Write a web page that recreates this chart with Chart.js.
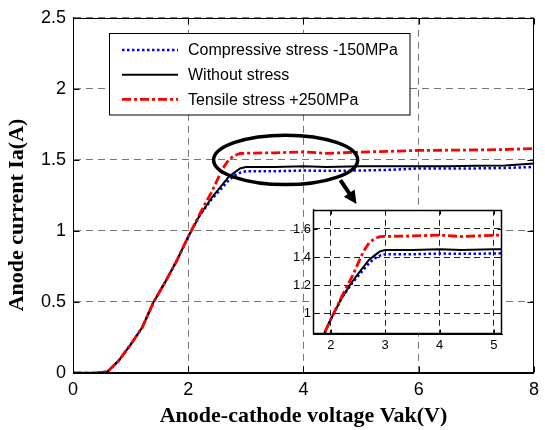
<!DOCTYPE html>
<html>
<head>
<meta charset="utf-8">
<script src="https://cdn.jsdelivr.net/npm/chart.js@4.4.0/dist/chart.umd.min.js"></script>
<style>
  html, body { margin: 0; padding: 0; background: #fff; }
  #wrap { position: relative; width: 545px; height: 430px; }
  #mainChart { position: absolute; left: 0; top: 0; }
  #insetChart { position: absolute; left: 282px; top: 200px; }
</style>
</head>
<body>
<div id="wrap">
  <canvas id="mainChart" width="545" height="430"></canvas>
  <canvas id="insetChart" width="225" height="160"></canvas>
</div>
<script>
// Anode voltage (V) and anode current (A)
const voltage     = [0, 0.2, 0.4, 0.6, 0.8, 1.0, 1.2, 1.4, 1.6, 1.8, 2.0, 2.2, 2.4, 2.6, 2.7, 2.8, 2.9, 3.0, 3.5, 4.0, 4.4, 5.0, 5.5, 6.0, 6.5, 7.0, 7.5, 8.0];
const compressive = [0, 0, 0, 0.01, 0.09, 0.2, 0.32, 0.5, 0.64, 0.79, 0.96, 1.11, 1.22, 1.31, 1.355, 1.39, 1.41, 1.42, 1.42, 1.425, 1.423, 1.425, 1.43, 1.44, 1.44, 1.44, 1.443, 1.45];
const noStress    = [0, 0, 0, 0.01, 0.09, 0.2, 0.32, 0.5, 0.64, 0.79, 0.96, 1.11, 1.23, 1.33, 1.38, 1.41, 1.44, 1.45, 1.45, 1.455, 1.45, 1.455, 1.455, 1.455, 1.455, 1.458, 1.46, 1.475];
const tensile     = [0, 0, 0, 0.01, 0.09, 0.2, 0.32, 0.5, 0.64, 0.79, 0.96, 1.12, 1.27, 1.44, 1.50, 1.53, 1.545, 1.547, 1.55, 1.556, 1.546, 1.555, 1.56, 1.567, 1.568, 1.57, 1.573, 1.58];

const xTicks = [0, 2, 4, 6, 8];
const yTicks = [0, 0.5, 1, 1.5, 2, 2.5];
const insetXTicks = [2, 3, 4, 5];
const insetYTicks = [1, 1.2, 1.4, 1.6];

const SANS = '"Liberation Sans", Arial, sans-serif';
const SERIF = '"Liberation Serif", "Times New Roman", serif';

function points(arr) {
    return voltage.map((v, i) => ({ x: v, y: arr[i] }));
}

// legend order: compressive, without, tensile; red drawn on top
function makeDatasets() {
    return [
        { label: 'Compressive stress -150MPa', data: points(compressive), borderColor: '#0000ff', borderWidth: 2.5, borderDash: [2.5, 2.5], order: 2 },
        { label: 'Without stress', data: points(noStress), borderColor: '#000000', borderWidth: 2, borderDash: [], order: 1 },
        { label: 'Tensile stress +250MPa', data: points(tensile), borderColor: '#ff0000', borderWidth: 2.8, borderDash: [9, 3, 3, 3], order: 0 }
    ].map(d => Object.assign(d, { pointRadius: 0, fill: false, tension: 0 }));
}

// solid frame and inward tick marks, matlab style
const frameTicks = {
    id: 'frameTicks',
    afterDatasetsDraw(chart, args, opts) {
        const { ctx, chartArea: a, scales } = chart;
        const L = Math.round(a.left) + 0.5, R = Math.round(a.right) - 0.5;
        const T = Math.round(a.top) + 0.5, B = Math.round(a.bottom) - 0.5;
        ctx.save();
        ctx.setLineDash([]);
        ctx.strokeStyle = '#000';
        ctx.lineWidth = opts.width;
        ctx.strokeRect(L, T, R - L, B - T);
        ctx.lineWidth = 1;
        ctx.beginPath();
        scales.x.ticks.forEach(tk => {
            const px = Math.round(scales.x.getPixelForValue(tk.value)) + 0.5;
            ctx.moveTo(px, B); ctx.lineTo(px, B - opts.len);
            ctx.moveTo(px, T); ctx.lineTo(px, T + opts.len);
        });
        scales.y.ticks.forEach(tk => {
            const py = Math.round(scales.y.getPixelForValue(tk.value)) + 0.5;
            ctx.moveTo(L, py); ctx.lineTo(L + opts.len, py);
            ctx.moveTo(R, py); ctx.lineTo(R - opts.len, py);
        });
        ctx.stroke();
        ctx.restore();
    }
};

const whiteArea = {
    id: 'whiteArea',
    beforeDraw(chart) {
        const { ctx, chartArea: a } = chart;
        ctx.save();
        ctx.fillStyle = '#fff';
        ctx.fillRect(a.left, a.top, a.right - a.left, a.bottom - a.top);
        ctx.restore();
    }
};

// ellipse around the knee and arrow pointing at the inset
const zoomMark = {
    id: 'zoomMark',
    afterDatasetsDraw(chart) {
        const { ctx, scales: { x, y } } = chart;
        const cx = x.getPixelForValue(3.69), cy = y.getPixelForValue(1.50);
        const rx = x.getPixelForValue(3.69 + 1.25) - cx;
        const ry = cy - y.getPixelForValue(1.50 + 0.174);
        ctx.save();
        ctx.setLineDash([]);
        ctx.strokeStyle = '#000';
        ctx.lineWidth = 3.5;
        ctx.beginPath();
        ctx.ellipse(cx, cy, rx, ry, 0, 0, Math.PI * 2);
        ctx.stroke();

        const x0 = x.getPixelForValue(4.64), y0 = y.getPixelForValue(1.358);
        const x1 = x.getPixelForValue(4.92), y1 = y.getPixelForValue(1.19);
        const len = Math.hypot(x1 - x0, y1 - y0);
        const ux = (x1 - x0) / len, uy = (y1 - y0) / len;
        const bx = x1 - ux * 13, by = y1 - uy * 13;
        ctx.lineWidth = 4;
        ctx.beginPath();
        ctx.moveTo(x0, y0);
        ctx.lineTo(bx + ux * 2, by + uy * 2);
        ctx.stroke();
        ctx.fillStyle = '#000';
        ctx.beginPath();
        ctx.moveTo(x1, y1);
        ctx.lineTo(bx - uy * 6.5, by + ux * 6.5);
        ctx.lineTo(bx + uy * 6.5, by - ux * 6.5);
        ctx.closePath();
        ctx.fill();
        ctx.restore();
    }
};

// boxed legend inside the plot, upper left
const boxLegend = {
    id: 'boxLegend',
    afterDraw(chart) {
        const ctx = chart.ctx;
        ctx.save();
        ctx.setLineDash([]);
        ctx.fillStyle = '#fff';
        ctx.fillRect(109.5, 33.5, 300.5, 81.5);
        ctx.strokeStyle = '#000';
        ctx.lineWidth = 1;
        ctx.strokeRect(109.5, 33.5, 300.5, 81.5);
        ctx.font = '16px ' + SANS;
        ctx.textBaseline = 'middle';
        chart.data.datasets.forEach((ds, i) => {
            const ry = 50 + i * 24.7;
            ctx.strokeStyle = ds.borderColor;
            ctx.lineWidth = ds.borderWidth;
            ctx.setLineDash(ds.borderDash);
            ctx.beginPath();
            ctx.moveTo(122, ry);
            ctx.lineTo(178, ry);
            ctx.stroke();
            ctx.setLineDash([]);
            ctx.fillStyle = '#000';
            ctx.fillText(ds.label, 188, ry + 1);
        });
        ctx.restore();
    }
};

// y axis title, placed a bit below the axis centre like the original
const yTitle = {
    id: 'yTitle',
    afterDraw(chart, args, opts) {
        const ctx = chart.ctx;
        ctx.save();
        ctx.translate(17, 215);
        ctx.rotate(-Math.PI / 2);
        ctx.font = 'bold 22px ' + SERIF;
        ctx.fillStyle = '#000';
        ctx.textAlign = 'center';
        ctx.textBaseline = 'middle';
        ctx.fillText(opts.text, 0, 0);
        ctx.restore();
    }
};

function fixedTicks(list) {
    return s => { s.ticks = list.map(v => ({ value: v })); };
}

const mainChart = new Chart(document.getElementById('mainChart'), {
    type: 'line',
    data: { datasets: makeDatasets() },
    options: {
        responsive: false,
        animation: false,
        layout: { padding: { top: 15, right: 5, left: 0, bottom: 0 } },
        plugins: {
            legend: { display: false },
            tooltip: { enabled: false },
            frameTicks: { width: 1, len: 6 },
            yTitle: { text: 'Anode current Ia(A)' }
        },
        scales: {
            x: {
                type: 'linear', min: 0, max: 8,
                afterBuildTicks: fixedTicks(xTicks),
                afterFit: s => { s.height = 57; },
                grid: { color: '#777', lineWidth: 1, drawTicks: false },
                border: { display: true, color: '#000', dash: [7, 5] },
                ticks: { color: '#000', font: { family: SANS, size: 18 }, padding: 6, maxRotation: 0, autoSkip: false, callback: v => String(v) },
                title: { display: true, text: 'Anode-cathode voltage Vak(V)', color: '#000', font: { family: SERIF, size: 22, weight: 'bold' }, padding: { top: 0, bottom: 0 } }
            },
            y: {
                type: 'linear', min: 0, max: 2.5,
                afterBuildTicks: fixedTicks(yTicks),
                afterFit: s => { s.width = 73; },
                grid: { color: '#777', lineWidth: 1, drawTicks: false },
                border: { display: true, color: '#000', dash: [7, 5] },
                ticks: { color: '#000', font: { family: SANS, size: 18 }, padding: 7, autoSkip: false, callback: v => String(v) }
            }
        }
    },
    plugins: [frameTicks, zoomMark, boxLegend, yTitle]
});

const insetChart = new Chart(document.getElementById('insetChart'), {
    type: 'line',
    data: { datasets: makeDatasets() },
    options: {
        responsive: false,
        animation: false,
        layout: { padding: { top: 5, right: 5, left: 0, bottom: 0 } },
        plugins: { legend: { display: false }, tooltip: { enabled: false }, frameTicks: { width: 1.5, len: 4 } },
        scales: {
            x: {
                type: 'linear', min: 1.67, max: 5.15,
                afterBuildTicks: fixedTicks(insetXTicks),
                afterFit: s => { s.height = 26; },
                grid: { color: '#222', lineWidth: 1, drawTicks: false },
                border: { display: true, color: '#000', dash: [6, 4] },
                ticks: { color: '#000', font: { family: SANS, size: 13 }, padding: 4, maxRotation: 0, autoSkip: false, callback: v => String(v) }
            },
            y: {
                type: 'linear', min: 0.853, max: 1.736,
                afterBuildTicks: fixedTicks(insetYTicks),
                afterFit: s => { s.width = 31; },
                grid: { color: '#222', lineWidth: 1, drawTicks: false },
                border: { display: true, color: '#000', dash: [6, 4] },
                ticks: { color: '#000', font: { family: SANS, size: 13 }, padding: 2, autoSkip: false, callback: v => String(v) }
            }
        }
    },
    plugins: [whiteArea, frameTicks]
});
</script>
</body>
</html>
